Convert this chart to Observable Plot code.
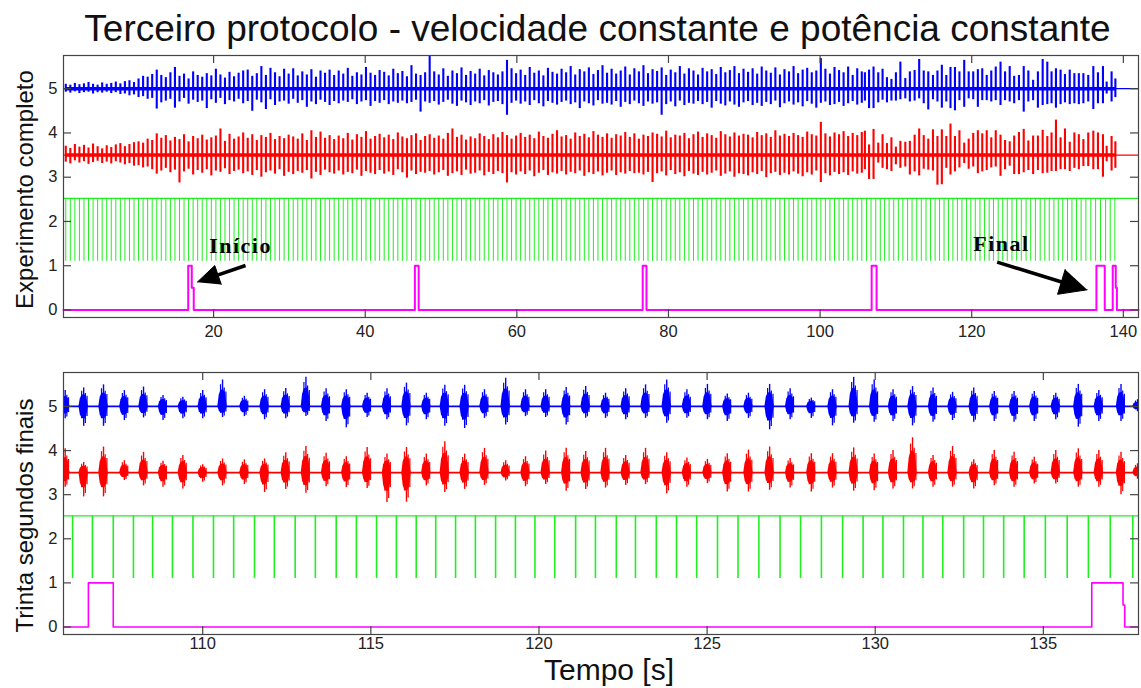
<!DOCTYPE html>
<html>
<head>
<meta charset="utf-8">
<script src="https://cdn.jsdelivr.net/npm/d3@7"></script>
<script src="https://cdn.jsdelivr.net/npm/@observablehq/plot@0.6"></script>
<style>
  body { margin: 0; background: #fff; }
  #wrap { position: relative; width: 1141px; height: 688px; overflow: hidden; font-family: "Liberation Sans", Arial, sans-serif; }
  #title { position: absolute; left: 27px; top: 9px; width: 1141px; text-align: center; font-size: 37px; line-height: 40px; color: #111; white-space: nowrap; }
  #p1 { position: absolute; left: 0; top: 45px; }
  #p2 { position: absolute; left: 0; top: 345px; }
  svg g[font-family*="Serif"] text { letter-spacing: 1.5px; }
</style>
</head>
<body>
<div id="wrap">
  <div id="title">Terceiro protocolo - velocidade constante e potência constante</div>
  <div id="p1"></div>
  <div id="p2"></div>
</div>
<script>
// ---------------- DATA ----------------
// Signal levels (vertical offsets of each trace)
const blueOffset = 5, redOffset = 3.5, syncHigh = 2.52, syncLow = 1.1;

// Top panel (whole experiment), cycles before the final 30 s: times (s)
const earlyTimes = [0.5,1.1,1.7,2.3,2.9,3.5,4.1,4.7,5.3,5.9,
6.5,7.1,7.7,8.3,8.9,9.5,10.1,10.7,11.3,11.9,
12.5,13.1,13.7,14.3,14.9,15.5,16.1,16.7,17.3,17.9,
18.5,19.1,19.7,20.3,20.9,21.5,22.1,22.7,23.3,23.9,
24.5,25.1,25.7,26.3,26.9,27.5,28.1,28.7,29.3,29.9,
30.5,31.1,31.7,32.3,32.9,33.5,34.1,34.7,35.3,35.9,
36.5,37.1,37.7,38.3,38.9,39.5,40.1,40.7,41.3,41.9,
42.5,43.1,43.7,44.3,44.9,45.5,46.1,46.7,47.3,47.9,
48.5,49.1,49.7,50.3,50.9,51.5,52.1,52.7,53.3,53.9,
54.5,55.1,55.7,56.3,56.9,57.5,58.1,58.7,59.3,59.9,
60.5,61.1,61.7,62.3,62.9,63.5,64.1,64.7,65.3,65.9,
66.5,67.1,67.7,68.3,68.9,69.5,70.1,70.7,71.3,71.9,
72.5,73.1,73.7,74.3,74.9,75.5,76.1,76.7,77.3,77.9,
78.5,79.1,79.7,80.3,80.9,81.5,82.1,82.7,83.3,83.9,
84.5,85.1,85.7,86.3,86.9,87.5,88.1,88.7,89.3,89.9,
90.5,91.1,91.7,92.3,92.9,93.5,94.1,94.7,95.3,95.9,
96.5,97.1,97.7,98.3,98.9,99.5,100.1,100.7,101.3,101.9,
102.5,103.1,103.7,104.3,104.9,105.5];

const earlyBlueUp = [0.10,0.08,0.12,0.09,0.11,0.14,0.10,0.08,0.13,0.10,
0.12,0.15,0.11,0.16,0.18,0.14,0.22,0.28,0.26,0.32,
0.42,0.30,0.25,0.36,0.48,0.28,0.33,0.22,0.38,0.30,
0.26,0.34,0.29,0.44,0.31,0.24,0.37,0.27,0.35,0.40,
0.42,0.28,0.34,0.50,0.30,0.46,0.36,0.27,0.44,0.33,
0.45,0.29,0.38,0.31,0.43,0.26,0.40,0.35,0.42,0.30,
0.40,0.33,0.46,0.28,0.36,0.31,0.48,0.35,0.30,0.41,
0.37,0.29,0.44,0.34,0.39,0.27,0.52,0.33,0.30,0.36,
0.75,0.38,0.31,0.45,0.28,0.40,0.34,0.47,0.30,0.39,
0.33,0.44,0.29,0.41,0.36,0.31,0.38,0.64,0.45,0.34,
0.42,0.30,0.48,0.35,0.40,0.29,0.46,0.37,0.33,0.44,
0.36,0.50,0.31,0.43,0.38,0.47,0.32,0.41,0.52,0.35,
0.44,0.33,0.40,0.49,0.31,0.45,0.38,0.52,0.34,0.43,
0.39,0.47,0.30,0.42,0.36,0.50,0.33,0.45,0.40,0.31,
0.46,0.38,0.43,0.32,0.48,0.36,0.41,0.50,0.34,0.44,
0.37,0.45,0.33,0.49,0.40,0.35,0.47,0.31,0.43,0.38,
0.50,0.34,0.42,0.46,0.36,0.40,0.68,0.44,0.33,0.48,
0.41,0.36,0.49,0.30,0.45,0.38];

const earlyBlueDown = [0.08,0.10,0.07,0.11,0.09,0.08,0.12,0.09,0.10,0.08,
0.11,0.09,0.13,0.12,0.16,0.14,0.20,0.18,0.24,0.22,
0.46,0.32,0.28,0.24,0.44,0.30,0.22,0.35,0.26,0.31,
0.28,0.45,0.25,0.33,0.22,0.36,0.27,0.30,0.24,0.34,
0.29,0.51,0.26,0.32,0.47,0.25,0.38,0.30,0.28,0.35,
0.24,0.33,0.27,0.42,0.30,0.36,0.26,0.31,0.38,0.29,
0.34,0.28,0.31,0.25,0.36,0.30,0.27,0.40,0.29,0.33,
0.27,0.36,0.30,0.33,0.28,0.34,0.31,0.26,0.53,0.30,
0.33,0.29,0.37,0.31,0.26,0.35,0.40,0.28,0.32,0.38,
0.30,0.34,0.27,0.39,0.31,0.29,0.36,0.60,0.33,0.28,
0.35,0.30,0.38,0.27,0.34,0.41,0.29,0.33,0.37,0.31,
0.28,0.36,0.32,0.45,0.30,0.34,0.39,0.27,0.35,0.33,
0.37,0.29,0.42,0.31,0.36,0.28,0.34,0.40,0.30,0.35,
0.32,0.60,0.36,0.30,0.41,0.28,0.38,0.33,0.35,0.29,
0.36,0.31,0.44,0.29,0.35,0.39,0.30,0.37,0.42,0.32,
0.29,0.38,0.33,0.40,0.31,0.36,0.28,0.43,0.34,0.30,
0.37,0.32,0.41,0.29,0.35,0.44,0.33,0.30,0.38,0.36,
0.31,0.40,0.34,0.29,0.37,0.33];

const earlyRedUp = [0.20,0.15,0.24,0.18,0.22,0.16,0.25,0.19,0.14,0.21,
0.17,0.23,0.26,0.19,0.24,0.28,0.30,0.27,0.36,0.33,
0.48,0.38,0.44,0.32,0.40,0.35,0.46,0.30,0.42,0.37,
0.45,0.34,0.39,0.43,0.59,0.31,0.47,0.36,0.41,0.50,
0.38,0.46,0.33,0.44,0.40,0.49,0.35,0.42,0.37,0.45,
0.41,0.36,0.48,0.33,0.55,0.40,0.52,0.38,0.44,0.35,
0.43,0.37,0.49,0.34,0.46,0.40,0.53,0.36,0.42,0.47,
0.39,0.45,0.35,0.50,0.41,0.37,0.44,0.48,0.33,0.42,
0.46,0.38,0.43,0.36,0.49,0.59,0.40,0.45,0.34,0.41,
0.37,0.48,0.42,0.35,0.46,0.39,0.51,0.44,0.36,0.43,
0.49,0.40,0.45,0.37,0.52,0.42,0.38,0.47,0.55,0.41,
0.44,0.36,0.50,0.42,0.47,0.39,0.53,0.45,0.40,0.48,
0.38,0.46,0.43,0.51,0.40,0.48,0.36,0.45,0.42,0.50,
0.47,0.41,0.54,0.39,0.45,0.43,0.49,0.37,0.46,0.52,
0.40,0.48,0.44,0.38,0.53,0.46,0.41,0.50,0.43,0.47,
0.45,0.39,0.51,0.44,0.48,0.40,0.55,0.43,0.47,0.42,
0.49,0.44,0.40,0.52,0.46,0.43,0.74,0.48,0.41,0.50,
0.46,0.53,0.42,0.49,0.44,0.51];

const earlyRedDown = [0.16,0.20,0.13,0.18,0.15,0.21,0.17,0.14,0.19,0.16,
0.20,0.15,0.18,0.22,0.19,0.25,0.24,0.29,0.27,0.33,
0.43,0.36,0.30,0.40,0.34,0.63,0.38,0.32,0.45,0.35,
0.41,0.33,0.47,0.36,0.39,0.31,0.44,0.37,0.34,0.42,
0.38,0.46,0.35,0.50,0.40,0.36,0.43,0.33,0.48,0.39,
0.44,0.37,0.41,0.35,0.54,0.39,0.46,0.34,0.40,0.43,
0.36,0.45,0.39,0.42,0.34,0.48,0.37,0.41,0.44,0.35,
0.43,0.38,0.46,0.33,0.40,0.52,0.36,0.44,0.39,0.41,
0.37,0.45,0.40,0.35,0.48,0.42,0.38,0.46,0.34,0.43,
0.41,0.36,0.47,0.39,0.44,0.37,0.42,0.63,0.40,0.45,
0.38,0.44,0.36,0.49,0.41,0.35,0.46,0.40,0.43,0.37,
0.45,0.39,0.42,0.36,0.48,0.40,0.44,0.38,0.47,0.41,
0.36,0.46,0.40,0.43,0.37,0.42,0.41,0.45,0.39,0.62,
0.42,0.38,0.47,0.35,0.44,0.40,0.49,0.37,0.43,0.46,
0.39,0.45,0.41,0.36,0.48,0.43,0.38,0.50,0.42,0.44,
0.47,0.40,0.44,0.37,0.51,0.42,0.39,0.46,0.41,0.45,
0.38,0.43,0.49,0.40,0.45,0.36,0.62,0.42,0.47,0.39,
0.44,0.40,0.46,0.38,0.43,0.41];

// Final 30 s: EMG burst centres (s) and peak excursions
const finalTimes = [105.91,106.46,107.05,107.67,108.24,108.82,109.41,110.00,110.59,111.24,
111.84,112.47,113.07,113.67,114.27,114.89,115.48,116.06,116.65,117.20,
117.79,118.38,119.01,119.60,120.20,120.81,121.39,121.98,122.58,123.17,
123.80,124.40,125.01,125.60,126.23,126.86,127.47,128.10,128.73,129.36,
129.97,130.53,131.11,131.72,132.30,132.93,133.54,134.13,134.73,135.37,
136.04,136.65,137.31,137.80];
const finalBlueUp = [0.36,0.42,0.49,0.36,0.44,0.25,0.21,0.36,0.60,0.23,
0.38,0.41,0.66,0.40,0.38,0.30,0.40,0.53,0.30,0.48,
0.48,0.38,0.64,0.38,0.38,0.43,0.45,0.30,0.40,0.49,
0.60,0.38,0.50,0.28,0.30,0.50,0.40,0.19,0.38,0.66,
0.60,0.38,0.45,0.42,0.32,0.42,0.34,0.34,0.34,0.30,
0.50,0.36,0.50,0.15];
const finalBlueDown = [0.28,0.45,0.45,0.32,0.26,0.32,0.28,0.28,0.25,0.23,
0.30,0.28,0.23,0.34,0.48,0.25,0.30,0.44,0.30,0.45,
0.50,0.27,0.42,0.23,0.25,0.42,0.27,0.27,0.30,0.27,
0.38,0.27,0.30,0.34,0.27,0.53,0.30,0.27,0.44,0.38,
0.36,0.34,0.44,0.36,0.32,0.36,0.34,0.36,0.34,0.30,
0.47,0.34,0.34,0.12];
const finalRedUp = [0.54,0.23,0.58,0.27,0.46,0.26,0.39,0.18,0.31,0.29,
0.31,0.45,0.59,0.44,0.36,0.57,0.42,0.57,0.42,0.70,
0.42,0.55,0.27,0.36,0.49,0.55,0.48,0.55,0.39,0.55,
0.45,0.33,0.30,0.43,0.51,0.58,0.32,0.43,0.43,0.56,
0.42,0.50,0.79,0.39,0.59,0.29,0.50,0.46,0.35,0.50,
0.54,0.50,0.46,0.20];
const finalRedDown = [0.33,0.55,0.55,0.18,0.30,0.33,0.37,0.22,0.30,0.27,
0.45,0.38,0.47,0.32,0.34,0.36,0.68,0.67,0.30,0.45,
0.38,0.29,0.19,0.32,0.27,0.42,0.38,0.35,0.29,0.27,
0.48,0.33,0.25,0.44,0.44,0.40,0.35,0.44,0.35,0.42,
0.41,0.37,0.37,0.33,0.33,0.37,0.30,0.33,0.26,0.26,
0.33,0.33,0.50,0.15];

// Bursts after the end of the lower window (seen only in the top panel)
const tailTimes = [138.45, 138.95];
const tailBlueUp = [0.38, 0.22], tailBlueDown = [0.30, 0.20];
const tailRedUp = [0.42, 0.30], tailRedDown = [0.36, 0.30];

// Crank-sync pulses (green) in the final 30 s and after
const finalSync = [106.13,106.72,107.34,107.94,108.51,109.10,109.71,110.32,110.92,111.54,
112.13,112.75,113.35,113.97,114.57,115.17,115.76,116.35,116.93,117.52,
118.11,118.71,119.30,119.88,120.47,121.09,121.68,122.30,122.87,123.49,
124.09,124.69,125.31,125.92,126.54,127.17,127.78,128.40,129.03,129.64,
130.23,130.84,131.42,132.01,132.63,133.22,133.82,134.43,135.06,135.71,
136.34,136.99,137.66];
const tailSync = [138.27, 138.88];

// Marker (magenta) step signal: breakpoint times and levels
const markerTopT = [0.2, 16.65, 17.12, 17.38, 46.55, 47.05, 76.6, 77.1, 106.8, 107.45, 136.45, 137.55, 138.6, 139.0, 139.15, 142.0];
const markerTopV = [0, 1, 0.5, 0, 1, 0, 1, 0, 1, 0, 1, 0, 1, 0.5, 0, 0];
const markerEndT = [105.86, 106.6, 107.34, 136.44, 137.37, 137.42, 137.83];
const markerEndV = [0, 1, 0, 1, 0.5, 0, 0];

// Ticks
const xTicksTop = [20, 40, 60, 80, 100, 120, 140];
const xTicksEnd = [110, 115, 120, 125, 130, 135];
const yTicks = [0, 1, 2, 3, 4, 5];

// Annotations
const annotations = [
  {label: "Início", tx: 23.55, ty: 1.457, fromX: 24.21, fromY: 1.005, toX: 17.84, toY: 0.628, head: 22, half: 10},
  {label: "Final", tx: 123.93, ty: 1.502, fromX: 123.36, fromY: 1.08, toX: 135.23, toY: 0.456, head: 27, half: 13}
];

// ---------------- STYLE / LAYOUT ----------------
const W = 1141, ML = 63, MR = 3;
const X1 = [0.2, 142.0], Y1 = [-0.17, 5.75], H1 = 300, MT1 = 10, MB1 = 28;
const X2 = [105.86, 137.83], Y2 = [-0.17, 5.77], H2 = 343, MT2 = 27, MB2 = 54;
const BLUE = "#0000ff", RED = "#ff0000", GREEN = "#22ee22", MAGENTA = "#ff00ff", AXIS = "#444";
// burst envelope shape (time offset in s, fraction of peak) and extra striation spikes
const blobProfile = [[-0.14, 0], [-0.1, 0.42], [-0.05, 0.6], [0.03, 0.64], [0.09, 0.48], [0.14, 0]];
const striations = [[-0.06, 0.82, 0.62], [0.05, 0.7, 0.86], [0.1, 0.55, 0.5]];

const zipBursts = (ts, bu, bd, ru, rd) => ts.map((t, i) => ({t, bu: bu[i], bd: bd[i], ru: ru[i], rd: rd[i]}))
  .filter(d => d.bu != null && d.bd != null && d.ru != null && d.rd != null);
const earlyBursts = zipBursts(earlyTimes, earlyBlueUp, earlyBlueDown, earlyRedUp, earlyRedDown);
const finalBursts = zipBursts(finalTimes, finalBlueUp, finalBlueDown, finalRedUp, finalRedDown);
const tailBursts = zipBursts(tailTimes, tailBlueUp, tailBlueDown, tailRedUp, tailRedDown);
const topBursts = [...earlyBursts, ...finalBursts, ...tailBursts];
const topSync = [...earlyTimes, ...finalSync, ...tailSync];
const markerTop = markerTopT.map((t, i) => ({t, v: markerTopV[i]}));
const markerEnd = markerEndT.map((t, i) => ({t, v: markerEndV[i]}));

function frameTicks(xTicks, innerW, innerH) {
  const len = 8, st = {stroke: AXIS, strokeWidth: 1.2};
  return [
    Plot.ruleX(xTicks, {...st, insetTop: innerH - len}),
    Plot.ruleX(xTicks, {...st, insetBottom: innerH - len}),
    Plot.ruleY(yTicks, {...st, insetRight: innerW - len}),
    Plot.ruleY(yTicks, {...st, insetLeft: innerW - len})
  ];
}

function emgTop(bursts, c, upK, dnK, color) {
  const span = [{c, x1: bursts[0].t, x2: bursts[bursts.length - 1].t}];
  return [
    Plot.ruleY([c], {stroke: color, strokeWidth: 1.2}),
    Plot.ruleY(span, {y: "c", x1: "x1", x2: "x2", stroke: color, strokeWidth: 3.5}),
    Plot.ruleX(bursts, {x: "t", y1: d => c - d[dnK], y2: d => c + d[upK], stroke: color, strokeWidth: 2.1})
  ];
}

function emgEnd(bursts, c, upK, dnK, color) {
  const blobs = bursts.flatMap((b, i) => blobProfile.map(([dt, f]) => ({id: i, x: b.t + dt, lo: c - f * b[dnK], hi: c + f * b[upK]})));
  const extra = bursts.flatMap(b => striations.map(([dt, fu, fd]) => ({x: b.t + dt, lo: c - fd * b[dnK], hi: c + fu * b[upK]})));
  return [
    Plot.ruleY([c], {stroke: color, strokeWidth: 1.8}),
    Plot.areaY(blobs, {x: "x", y1: "lo", y2: "hi", z: "id", fill: color, clip: true}),
    Plot.ruleX(extra, {x: "x", y1: "lo", y2: "hi", stroke: color, strokeWidth: 1.2, clip: true}),
    Plot.ruleX(bursts, {x: "t", y1: d => c - d[dnK], y2: d => c + d[upK], stroke: color, strokeWidth: 1.4, clip: true})
  ];
}

function arrowMarks(list, kx, ky) {
  const shafts = [], heads = [];
  list.forEach((a, i) => {
    const dx = (a.toX - a.fromX) * kx, dy = -(a.toY - a.fromY) * ky;
    const L = Math.hypot(dx, dy), ux = dx / L, uy = dy / L;
    const bx = -ux * a.head, by = -uy * a.head;
    const nx = -uy * a.half, ny = ux * a.half;
    const toData = (px, py) => ({id: i, x: a.toX + px / kx, y: a.toY - py / ky});
    shafts.push({x1: a.fromX, y1: a.fromY, x2: a.toX + (bx * 0.8) / kx, y2: a.toY - (by * 0.8) / ky});
    heads.push(toData(0, 0), toData(bx + nx, by + ny), toData(bx - nx, by - ny));
  });
  return [
    Plot.link(shafts, {x1: "x1", y1: "y1", x2: "x2", y2: "y2", stroke: "#000", strokeWidth: 3.5}),
    Plot.line(heads, {x: "x", y: "y", z: "id", fill: "#000", stroke: "#000", strokeWidth: 1})
  ];
}

const baseStyle = {fontFamily: "Liberation Sans, Arial, sans-serif", fontSize: "16.5px", color: "#222", background: "transparent", overflow: "visible"};
const intFmt = d => String(d);

// ---------------- TOP PANEL ----------------
const innerW = W - ML - MR;
const innerH1 = H1 - MT1 - MB1;
const kx1 = innerW / (X1[1] - X1[0]), ky1 = innerH1 / (Y1[1] - Y1[0]);

const topPlot = Plot.plot({
  width: W, height: H1, marginLeft: ML, marginRight: MR, marginTop: MT1, marginBottom: MB1,
  style: baseStyle,
  x: {domain: X1, ticks: xTicksTop, tickSize: 0, tickPadding: 8, tickFormat: intFmt, label: null},
  y: {domain: Y1, ticks: yTicks, tickSize: 0, tickPadding: 6, tickFormat: intFmt, label: null},
  marks: [
    Plot.ruleY([syncHigh], {stroke: GREEN, strokeWidth: 1.2}),
    Plot.ruleX(topSync, {x: d => d, y1: syncLow, y2: syncHigh, stroke: GREEN, strokeWidth: 1}),
    ...emgTop(topBursts, redOffset, "ru", "rd", RED),
    ...emgTop(topBursts, blueOffset, "bu", "bd", BLUE),
    Plot.line(markerTop, {x: "t", y: "v", curve: "step-after", stroke: MAGENTA, strokeWidth: 2}),
    ...arrowMarks(annotations, kx1, ky1),
    Plot.text(annotations, {x: "tx", y: "ty", text: "label", fontFamily: "Liberation Serif, Times New Roman, serif", fontWeight: "bold", fontSize: 22, fill: "#000"}),
    Plot.frame({stroke: AXIS, strokeWidth: 1.2}),
    ...frameTicks(xTicksTop, innerW, innerH1),
    Plot.text(["Experimento completo"], {text: d => d, frameAnchor: "left", textAnchor: "middle", lineAnchor: "middle", rotate: -90, dx: -38, dy: 3, fontSize: 24, fill: "#111"})
  ]
});
document.getElementById("p1").appendChild(topPlot);

// ---------------- BOTTOM PANEL ----------------
const innerH2 = H2 - MT2 - MB2;
const bottomPlot = Plot.plot({
  width: W, height: H2, marginLeft: ML, marginRight: MR, marginTop: MT2, marginBottom: MB2,
  style: baseStyle,
  x: {domain: X2, ticks: xTicksEnd, tickSize: 0, tickPadding: 3, tickFormat: intFmt, label: null},
  y: {domain: Y2, ticks: yTicks, tickSize: 0, tickPadding: 6, tickFormat: intFmt, label: null},
  marks: [
    Plot.ruleY([syncHigh], {stroke: GREEN, strokeWidth: 1.2}),
    Plot.ruleX(finalSync, {x: d => d, y1: syncLow, y2: syncHigh, stroke: GREEN, strokeWidth: 1.6}),
    ...emgEnd(finalBursts, redOffset, "ru", "rd", RED),
    ...emgEnd(finalBursts, blueOffset, "bu", "bd", BLUE),
    Plot.line(markerEnd, {x: "t", y: "v", curve: "step-after", stroke: MAGENTA, strokeWidth: 1.6}),
    Plot.frame({stroke: AXIS, strokeWidth: 1.2}),
    ...frameTicks(xTicksEnd, innerW, innerH2),
    Plot.text(["Trinta segundos finais"], {text: d => d, frameAnchor: "left", textAnchor: "middle", lineAnchor: "middle", rotate: -90, dx: -38, dy: 12, fontSize: 24, fill: "#111"}),
    Plot.text(["Tempo [s]"], {text: d => d, frameAnchor: "bottom", textAnchor: "middle", lineAnchor: "middle", dx: 8, dy: 36, fontSize: 30, fill: "#111"})
  ]
});
document.getElementById("p2").appendChild(bottomPlot);
</script>
</body>
</html>
